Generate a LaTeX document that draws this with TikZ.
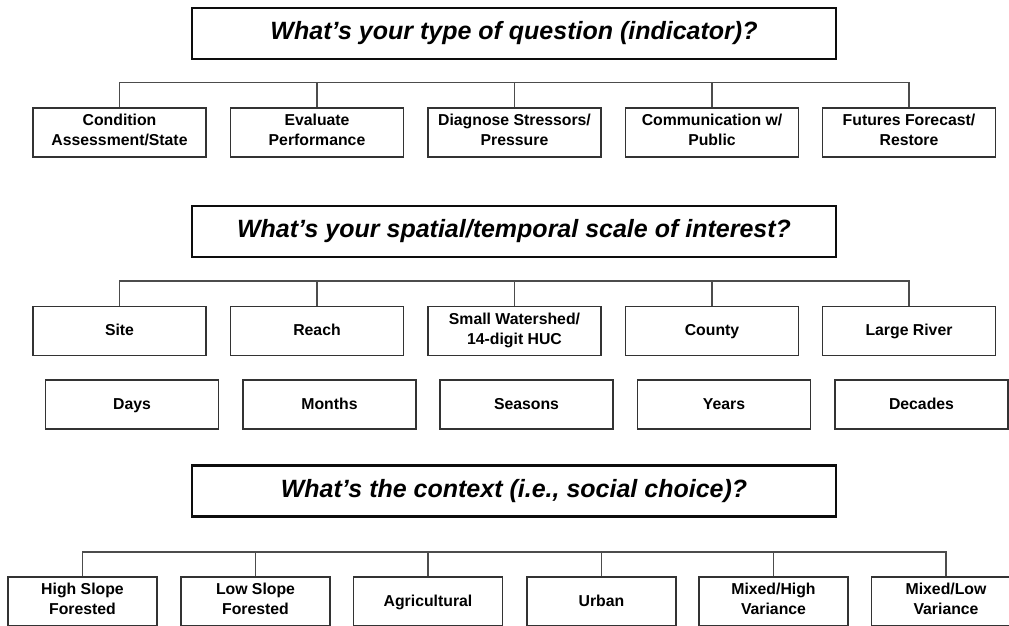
\documentclass[tikz,border=0pt]{standalone}
\usepackage{fontspec}
\setmainfont{Liberation Sans}
\usepackage{tikz}
\usetikzlibrary{arrows.meta}

\begin{document}
\begin{tikzpicture}[x=1pt,y=-1pt]
\tikzstyle{every node}=[font=\fontsize{15.8}{20}\selectfont\bfseries]
\tikzstyle{titlebox}=[draw=black!95, line width=2.4pt, minimum width=644pt, minimum height=51pt, inner sep=0pt, font=\fontsize{25}{28}\selectfont\bfseries\itshape]
\tikzstyle{choicebox}=[draw=black!80, line width=1.5pt, minimum width=173pt, minimum height=49pt, inner sep=0pt, align=center, execute at begin node={\rule{0pt}{14pt}}, execute at end node={\rule[-5pt]{0pt}{5pt}}]
\tikzstyle{ctxbox}=[choicebox, minimum width=149pt]
\tikzstyle{bus}=[draw=black!70, line width=1.5pt]
\clip (0,0) rectangle (1009,625);
% question type
\node [titlebox] (type) at (514,33.5) {What’s your type of question (indicator)?};
\node [choicebox] (tq1) at (119.5,132.5) {Condition\\Assessment/State};
\node [choicebox] (tq2) at (317,132.5) {Evaluate\\Performance};
\node [choicebox] (tq3) at (514.5,132.5) {Diagnose Stressors/\\Pressure};
\node [choicebox] (tq4) at (712,132.5) {Communication w/\\Public};
\node [choicebox] (tq5) at (909,132.5) {Futures Forecast/\\Restore};
\draw [bus] (tq1.north) -- ([yshift=25pt]tq1.north) -- ([yshift=25pt]tq5.north) -- (tq5.north);
\draw [bus] (tq2.north) -- ([yshift=25pt]tq2.north);
\draw [bus] (tq3.north) -- ([yshift=25pt]tq3.north);
\draw [bus] (tq4.north) -- ([yshift=25pt]tq4.north);
% spatial / temporal scale
\node [titlebox] (scale) at (514,231.5) {What’s your spatial/temporal scale of interest?};
\node [choicebox] (sp1) at (119.5,331) {Site};
\node [choicebox] (sp2) at (317,331) {Reach};
\node [choicebox] (sp3) at (514.5,331) {Small Watershed/\\14-digit HUC};
\node [choicebox] (sp4) at (712,331) {County};
\node [choicebox] (sp5) at (909,331) {Large River};
\draw [bus] (sp1.north) -- ([yshift=25pt]sp1.north) -- ([yshift=25pt]sp5.north) -- (sp5.north);
\draw [bus] (sp2.north) -- ([yshift=25pt]sp2.north);
\draw [bus] (sp3.north) -- ([yshift=25pt]sp3.north);
\draw [bus] (sp4.north) -- ([yshift=25pt]sp4.north);
\node [choicebox] (tm1) at (132,404.5) {Days};
\node [choicebox] (tm2) at (329.5,404.5) {Months};
\node [choicebox] (tm3) at (526.5,404.5) {Seasons};
\node [choicebox] (tm4) at (724,404.5) {Years};
\node [choicebox] (tm5) at (921.5,404.5) {Decades};
% context
\node [titlebox] (context) at (514,491) {What’s the context (i.e., social choice)?};
\node [ctxbox] (cx1) at (82.5,601.5) {High Slope\\Forested};
\node [ctxbox] (cx2) at (255.5,601.5) {Low Slope\\Forested};
\node [ctxbox] (cx3) at (428,601.5) {Agricultural};
\node [ctxbox] (cx4) at (601.5,601.5) {Urban};
\node [ctxbox] (cx5) at (773.5,601.5) {Mixed/High\\Variance};
\node [ctxbox] (cx6) at (946,601.5) {Mixed/Low\\Variance};
\draw [bus] (cx1.north) -- ([yshift=24.5pt]cx1.north) -- ([yshift=24.5pt]cx6.north) -- (cx6.north);
\draw [bus] (cx2.north) -- ([yshift=24.5pt]cx2.north);
\draw [bus] (cx3.north) -- ([yshift=24.5pt]cx3.north);
\draw [bus] (cx4.north) -- ([yshift=24.5pt]cx4.north);
\draw [bus] (cx5.north) -- ([yshift=24.5pt]cx5.north);
\end{tikzpicture}
\end{document}
